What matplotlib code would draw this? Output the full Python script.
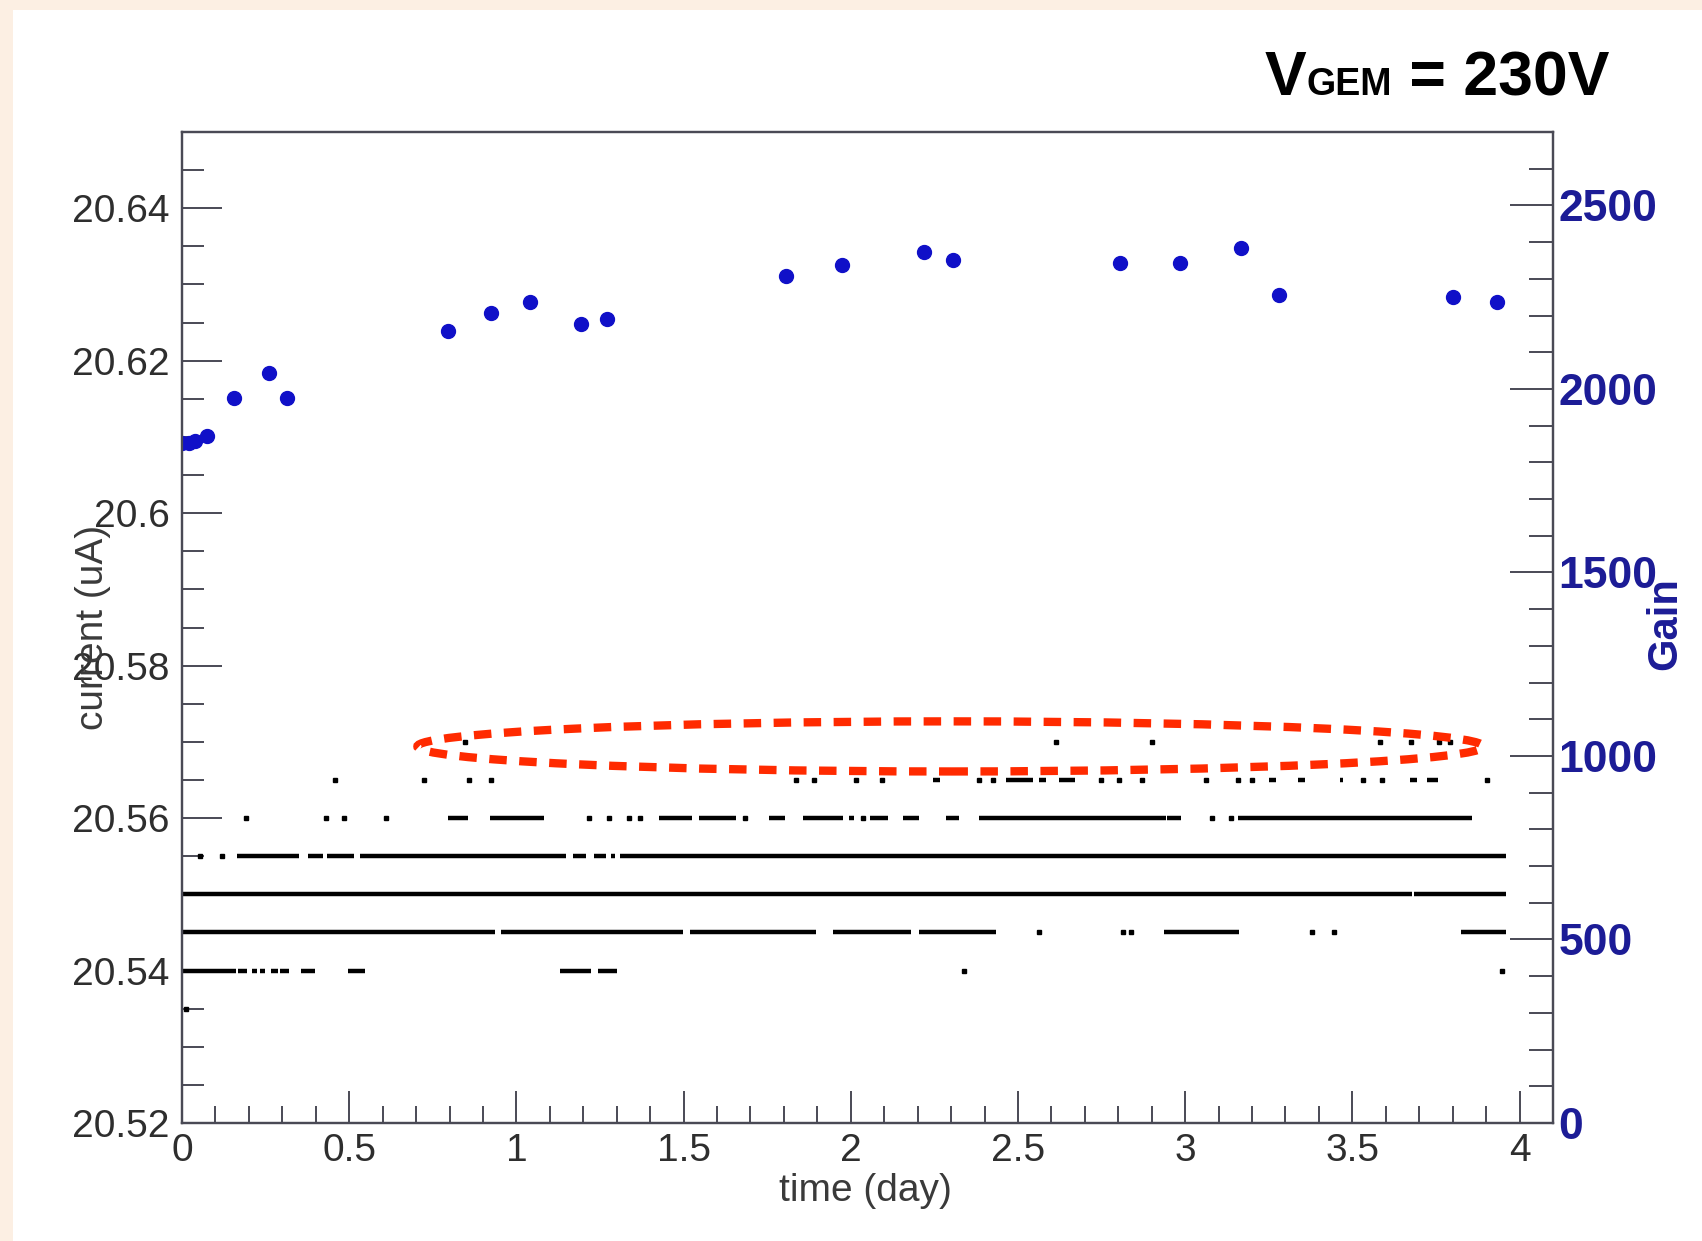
import numpy as np
import matplotlib
matplotlib.use("Agg")
import matplotlib.pyplot as plt
from matplotlib.patches import Ellipse, Rectangle
from matplotlib.ticker import MultipleLocator, FuncFormatter

plt.rcParams['font.family'] = ['Liberation Sans', 'DejaVu Sans']

# Gain measurements (right axis)
gain_time = [0.0, 0.02, 0.04, 0.074, 0.157, 0.261, 0.313, 0.794, 0.924, 1.042, 1.193,
             1.272, 1.807, 1.973, 2.220, 2.306, 2.804, 2.986, 3.168, 3.280, 3.800, 3.934]
gain = [1852, 1854, 1857, 1871, 1976, 2044, 1976, 2158, 2207, 2237, 2178,
        2191, 2307, 2338, 2372, 2352, 2344, 2344, 2384, 2255, 2250, 2237]

# Current readings (left axis), quantised levels in uA.
# runs = time spans (day) where the reading sits on a level, dots = single readings
runs_20540 = [(0.0, 0.161), (0.168, 0.194), (0.208, 0.225), (0.234, 0.247), (0.265, 0.288),
              (0.294, 0.321), (0.355, 0.399), (0.495, 0.548), (1.131, 1.222), (1.245, 1.302)]
dots_20540 = [2.340, 3.948]
runs_20545 = [(0.0, 0.935), (0.955, 1.498), (1.520, 1.896), (1.947, 2.181), (2.204, 2.435),
              (2.938, 3.162), (3.825, 3.958)]
dots_20545 = [2.564, 2.814, 2.839, 3.380, 3.444]
runs_20550 = [(0.0, 3.678), (3.684, 3.958)]
runs_20555 = [(0.164, 0.351), (0.377, 0.422), (0.435, 0.515), (0.531, 1.149), (1.169, 1.209),
              (1.232, 1.269), (1.283, 1.295), (1.309, 3.958)]
dots_20555 = [0.055, 0.121]
runs_20560 = [(0.795, 0.855), (0.922, 1.082), (1.426, 1.525), (1.545, 1.656), (1.756, 1.803),
              (1.856, 1.976), (1.996, 2.010), (2.057, 2.111), (2.155, 2.204), (2.284, 2.324),
              (2.382, 2.942), (2.947, 2.987), (3.158, 3.859)]
dots_20560 = [0.192, 0.431, 0.485, 0.611, 1.218, 1.278, 1.338, 1.369, 1.685, 2.037, 3.081, 3.138]
runs_20565 = [(2.245, 2.267), (2.464, 2.544), (2.564, 2.584), (2.623, 2.670), (3.252, 3.273),
              (3.336, 3.357), (3.462, 3.472), (3.672, 3.693), (3.724, 3.756)]
dots_20565 = [0.457, 0.725, 0.857, 0.924, 1.837, 1.889, 2.015, 2.094, 2.382, 2.424, 2.749,
              2.801, 2.871, 3.063, 3.158, 3.200, 3.531, 3.588, 3.904]
dots_20570 = [0.846, 2.613, 2.902, 3.582, 3.676, 3.760, 3.791]
dots_20535 = [0.013]

current_runs = {20.540: runs_20540, 20.545: runs_20545, 20.550: runs_20550,
                20.555: runs_20555, 20.560: runs_20560, 20.565: runs_20565}
current_dots = {20.535: dots_20535, 20.540: dots_20540, 20.545: dots_20545,
                20.555: dots_20555, 20.560: dots_20560, 20.565: dots_20565,
                20.570: dots_20570}

W, H = 1702, 1241
fig = plt.figure(figsize=(W / 100, H / 100), dpi=100, facecolor='#fcefe3')
fig.patches.append(Rectangle((13 / W, 0), 1 - 13 / W, 1 - 10 / H, transform=fig.transFigure,
                             facecolor='white', edgecolor='none', zorder=-10))

ax = fig.add_axes([182 / W, 1 - 1123 / H, (1553 - 182) / W, (1123 - 132) / H])
ax.set_xlim(0, 4.1)
ax.set_ylim(20.52, 20.65)
frame_col = '#4a4a55'
for s in ax.spines.values():
    s.set_color(frame_col)
    s.set_linewidth(1.6)

# current data
for level, spans in current_runs.items():
    starts = [a for a, b in spans]
    ends = [b for a, b in spans]
    ax.hlines([level] * len(spans), starts, ends, color='black', lw=3.2)
for level, ts in current_dots.items():
    ax.plot(ts, [level] * len(ts), ls='none', marker='s', ms=3.4, color='black')

ax.xaxis.set_major_locator(MultipleLocator(0.5))
ax.xaxis.set_minor_locator(MultipleLocator(0.1))
ax.yaxis.set_major_locator(MultipleLocator(0.02))
ax.yaxis.set_minor_locator(MultipleLocator(0.005))
ax.xaxis.set_major_formatter(FuncFormatter(lambda v, p: '%g' % round(v, 3)))
ax.yaxis.set_major_formatter(FuncFormatter(lambda v, p: '%g' % round(v, 3)))
ax.tick_params(axis='x', which='major', direction='in', length=23, width=1.4, color=frame_col,
               labelsize=28, labelcolor='#2e2e2e', pad=7, top=False)
ax.tick_params(axis='x', which='minor', direction='in', length=12, width=1.4, color=frame_col, top=False)
ax.tick_params(axis='y', which='major', direction='in', length=29, width=1.4, color=frame_col,
               labelsize=28, labelcolor='#2e2e2e', pad=9, right=False)
ax.tick_params(axis='y', which='minor', direction='in', length=16, width=1.4, color=frame_col, right=False)

# red dashed ellipse highlighting the upper readings
ax.add_patch(Ellipse((2.298, 20.5694), 3.188, 0.00657, fill=False, edgecolor='#ff2a00',
                     lw=6, ls=(0, (2.1, 1.5)), clip_on=False, zorder=5))

# gain on the right axis
ax2 = ax.twinx()
ax2.set_ylim(0, 2700)
ax2.plot(gain_time, gain, ls='none', marker='o', ms=10, color='#1010c8', mec='#1010c8')
ax2.yaxis.set_major_locator(MultipleLocator(500))
ax2.yaxis.set_minor_locator(MultipleLocator(100))
ax2.tick_params(axis='y', which='major', direction='in', length=31, width=1.4, color=frame_col,
                labelsize=32, labelcolor='#1c1c96', pad=4)
ax2.tick_params(axis='y', which='minor', direction='in', length=17, width=1.4, color=frame_col)
for lbl in ax2.get_yticklabels():
    lbl.set_fontweight('bold')
for s in ax2.spines.values():
    s.set_color(frame_col)
    s.set_linewidth(1.6)

fig.text(93 / W, 1 - 627 / H, 'current (uA)', rotation=90, ha='center', va='center',
         fontsize=28, color='#3a3a3a')
fig.text(865 / W, 1 - 1191 / H, 'time (day)', ha='center', va='center', fontsize=28, color='#3a3a3a')
fig.text(1665 / W, 1 - 624 / H, 'Gain', rotation=90, ha='center', va='center',
         fontsize=30, color='#1c1c96', fontweight='bold')

# title  V_GEM = 230V
r = fig.canvas.get_renderer()
base_y = 1 - 95 / H
t1 = fig.text(1265 / W, base_y, 'V', fontsize=45, fontweight='bold', va='baseline')
x_next = t1.get_window_extent(r).x1 / W
t2 = fig.text(x_next, base_y, 'GEM', fontsize=27, fontweight='bold', va='baseline')
x_next = t2.get_window_extent(r).x1 / W
fig.text(x_next, base_y, ' = 230V', fontsize=45, fontweight='bold', va='baseline')

fig.savefig('out.png', dpi=100, facecolor=fig.get_facecolor())
